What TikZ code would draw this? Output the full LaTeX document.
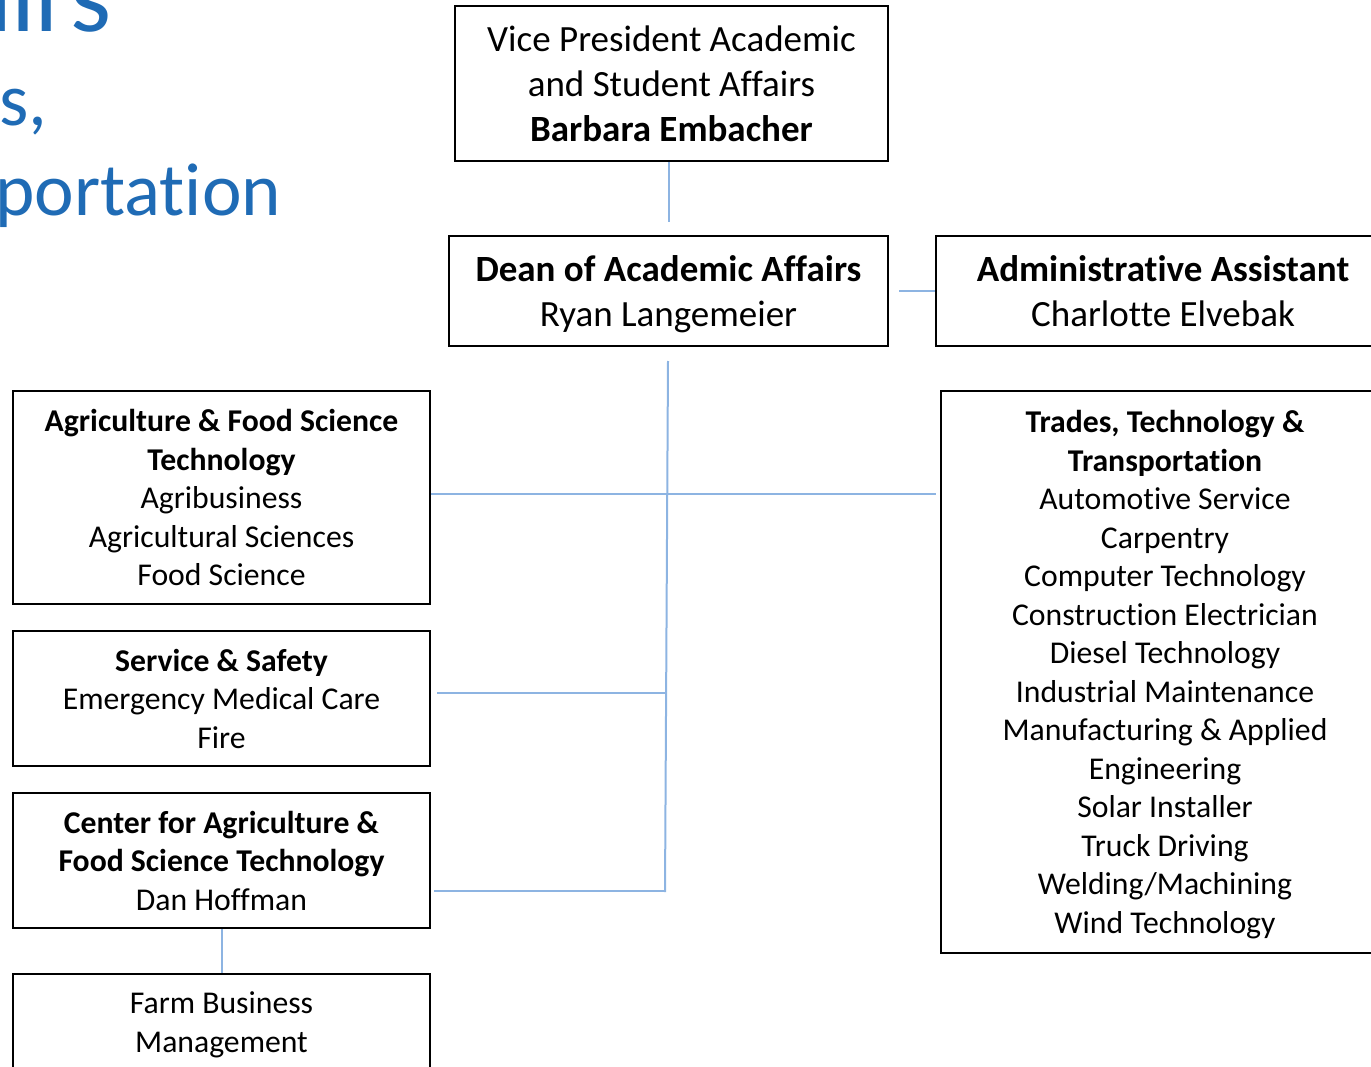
\documentclass[tikz,border=0pt]{standalone}
\usepackage{fontspec}
\setmainfont{Carlito}[Ligatures={NoCommon,NoContextual,NoRare},Contextuals={NoAlternate}]
\definecolor{conn}{RGB}{141,180,226}
\definecolor{titleblue}{RGB}{31,107,181}
\tikzset{
  box/.style={draw=black, line width=2pt, inner sep=0pt, align=center,
    font=\fontsize{31.7}{38.5}\selectfont},
  bigbox/.style={box, font=\fontsize{37}{45}\selectfont},
  link/.style={draw=conn, line width=2pt},
  ttl/.style={text=titleblue, inner sep=0pt, font=\fontsize{75}{90}\selectfont},
  ttlbig/.style={text=titleblue, inner sep=0pt, font=\fontsize{105}{120}\selectfont}
}
\begin{document}
\begin{tikzpicture}[x=1pt,y=-1pt]
\useasboundingbox (0,0) rectangle (1371,1067);
\clip (0,0) rectangle (1371,1067);
% title fragments
\node[ttlbig, anchor=base east] (t1) at (112,32) {airs};
\node[ttl, anchor=base west] (t2) at (-1,126) {s,};
\node[ttl, anchor=base west] (t3) at (-5,216) {portation};
% boxes
\node[bigbox, minimum width=433pt, minimum height=155pt] (vp) at (671.5,83.5)
  {Vice President Academic\\and Student Affairs\\\textbf{Barbara Embacher}};
\node[bigbox, minimum width=439pt, minimum height=110pt, text depth=0pt] (dean) at (668.5,291)
  {\textbf{Dean of Academic Affairs}\\Ryan Langemeier};
\node[bigbox, minimum width=454pt, minimum height=110pt] (admin) at (1163,291)
  {\textbf{Administrative Assistant}\\Charlotte Elvebak};
\node[box, minimum width=417pt, minimum height=213pt] (ag) at (221.5,497.5)
  {\textbf{Agriculture \& Food Science}\\\textbf{Technology}\\Agribusiness\\Agricultural Sciences\\Food Science};
\node[box, minimum width=417pt, minimum height=135pt] (svc) at (221.5,698.5)
  {\textbf{Service \& Safety}\\Emergency Medical Care\\Fire};
\node[box, minimum width=417pt, minimum height=135pt] (ctr) at (221.5,860.5)
  {\textbf{Center for Agriculture \&}\\\textbf{Food Science Technology}\\Dan Hoffman};
\node[box, minimum width=417pt, minimum height=96pt, text depth=-3pt] (farm) at (221.5,1022)
  {Farm Business\\Management};
\node[box, minimum width=448pt, minimum height=562pt, text depth=0pt] (trades) at (1165,672)
  {\textbf{Trades, Technology \&}\\\textbf{Transportation}\\Automotive Service\\Carpentry\\Computer Technology\\Construction Electrician\\Diesel Technology\\Industrial Maintenance\\Manufacturing \& Applied\\Engineering\\Solar Installer\\Truck Driving\\Welding/Machining\\Wind Technology};
% connector coordinates
\coordinate (vpend) at (669,222);
\coordinate (dr) at (899,291);
\coordinate (s1) at (668,361);
\coordinate (s2) at (665,892);
\coordinate (h1a) at (431,494);
\coordinate (h1b) at (936,494);
\coordinate (h2a) at (437,693);
\coordinate (h2b) at (666,693);
\coordinate (h3a) at (434,891);
\coordinate (h3b) at (665,891);
% connectors
\draw[link] (vp.south -| vpend) -- (vpend);
\draw[link] (dr) -- (admin.west |- dr);
\draw[link] (s1) -- (s2);
\draw[link] (h1a) -- (h1b);
\draw[link] (h2a) -- (h2b);
\draw[link] (h3a) -- (h3b);
\draw[link] (ctr.south) -- (farm.north);
\end{tikzpicture}
\end{document}
